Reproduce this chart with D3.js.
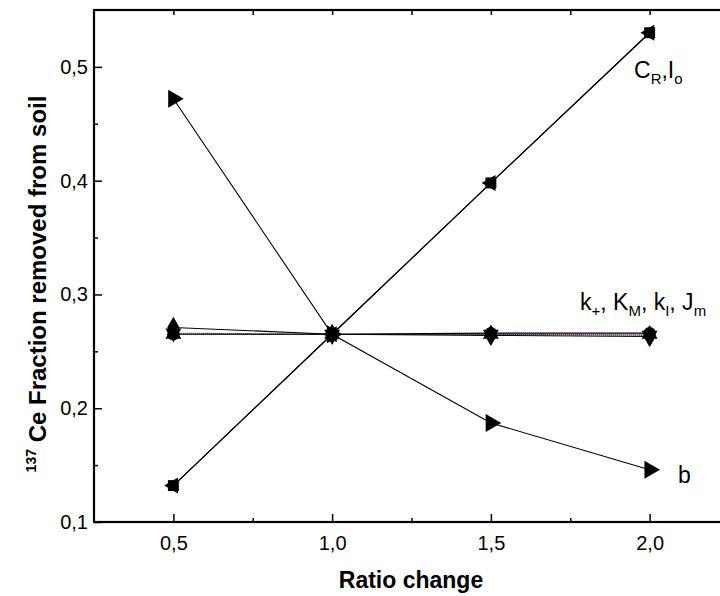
<!DOCTYPE html>
<html>
<head>
    <title>137Ce fraction vs ratio change</title>
</head>
<body style="margin:0">
<style type="text/css">
    #renderer { width: 720px; height: 596px; background: #fff; display: block; }
    .tick text { font-family: "Liberation Sans", Arial, sans-serif; font-size: 20px; fill: #000; }
    .domain { display: none; }
    .tick line { stroke: #000; stroke-width: 1.5; }
</style>
<script type="text/javascript" src="https://cdnjs.cloudflare.com/ajax/libs/d3/7.8.5/d3.min.js"></script>
<svg id="renderer"></svg>

<script type="text/javascript">
    // data
    var ratio = [0.5, 1.0, 1.5, 2.0];
    var cR = [0.132, 0.265, 0.398, 0.530];
    var iO = [0.132, 0.265, 0.398, 0.530];
    var bVal = [0.472, 0.265, 0.187, 0.146];
    var kPlus = [0.271, 0.265, 0.264, 0.263];
    var kM = [0.265, 0.265, 0.265, 0.265];
    var kI = [0.266, 0.265, 0.265, 0.264];
    var jM = [0.265, 0.265, 0.266, 0.266];
    var xTickValues = [0.5, 1.0, 1.5, 2.0];
    var xMinorTicks = [0.75, 1.25, 1.75];
    var yTickValues = [0.1, 0.2, 0.3, 0.4, 0.5];
    var yMinorTicks = [0.15, 0.25, 0.35, 0.45];

    var root = d3.select('#renderer');

    var padL = 94, padR = 729, padT = 10, padB = 522;

    var x = d3.scaleLinear().domain([0.25, 2.25]).range([padL, padR]);
    var y = d3.scaleLinear().domain([0.1, 0.55]).range([padB, padT]);

    var fmt = function (d) { return d3.format('.1f')(d).replace('.', ','); };

    // axes (ticks inward)
    root.append('g').attr('transform', 'translate(0,' + padB + ')')
        .call(d3.axisBottom(x).tickValues(xTickValues).tickSize(-8).tickPadding(14).tickFormat(fmt));
    root.append('g').attr('transform', 'translate(0,' + padB + ')')
        .call(d3.axisBottom(x).tickValues(xMinorTicks).tickSize(-4).tickFormat(''));
    root.append('g').attr('transform', 'translate(0,' + padT + ')')
        .call(d3.axisTop(x).tickValues(xTickValues.concat(xMinorTicks)).tickSize(-5).tickFormat(''));
    root.append('g').attr('transform', 'translate(' + padL + ',0)')
        .call(d3.axisLeft(y).tickValues(yTickValues).tickSize(-8).tickPadding(6).tickFormat(fmt));
    root.append('g').attr('transform', 'translate(' + padL + ',0)')
        .call(d3.axisLeft(y).tickValues(yMinorTicks).tickSize(-4).tickFormat(''));

    // frame
    root.append('rect')
        .attr('x', padL).attr('y', padT)
        .attr('width', padR - padL).attr('height', padB - padT)
        .attr('fill', 'none').attr('stroke', '#000').attr('stroke-width', 2.2);

    // series
    var series = [
        { vals: kM, sym: d3.symbolTriangle, rot: 0, size: 110, line: '#700', dash: '1,1' },
        { vals: kI, sym: d3.symbolTriangle, rot: 180, size: 110, line: '#006', dash: '1,1' },
        { vals: jM, sym: d3.symbolCircle, rot: 0, size: 120, line: '#000', dash: null },
        { vals: kPlus, sym: d3.symbolDiamond, rot: 0, size: 130, line: '#000', dash: null },
        { vals: iO, sym: d3.symbolTriangle, rot: -90, size: 110, line: '#000', dash: null },
        { vals: cR, sym: d3.symbolSquare, rot: 0, size: 120, line: '#000', dash: null },
        { vals: bVal, sym: d3.symbolTriangle, rot: 90, size: 140, line: '#000', dash: null }
    ];

    var line = d3.line().x(function (d) { return x(d[0]); }).y(function (d) { return y(d[1]); });

    series.forEach(function (s) {
        var pts = ratio.map(function (r, i) { return [r, s.vals[i]]; });
        root.append('path')
            .attr('d', line(pts))
            .attr('fill', 'none')
            .attr('stroke', s.line)
            .attr('stroke-width', 1.1)
            .attr('stroke-dasharray', s.dash);
    });
    series.forEach(function (s) {
        var pts = ratio.map(function (r, i) { return [r, s.vals[i]]; });
        root.selectAll(null).data(pts).enter().append('path')
            .attr('d', d3.symbol().type(s.sym).size(s.size))
            .attr('transform', function (d) {
                return 'translate(' + x(d[0]) + ',' + y(d[1]) + ') rotate(' + s.rot + ')';
            })
            .attr('fill', '#000');
    });

    // annotations
    var ann = root.append('g')
        .style('font-family', '"Liberation Sans", Arial, sans-serif')
        .style('font-size', '23px');

    var t1 = ann.append('text').attr('x', 634).attr('y', 78);
    t1.append('tspan').text('C');
    t1.append('tspan').attr('dy', 6).style('font-size', '15px').text('R');
    t1.append('tspan').attr('dy', -6).text(',I');
    t1.append('tspan').attr('dy', 6).style('font-size', '15px').text('o');

    var t2 = ann.append('text').attr('x', 580).attr('y', 310);
    t2.append('tspan').text('k');
    t2.append('tspan').attr('dy', 6).style('font-size', '15px').text('+');
    t2.append('tspan').attr('dy', -6).text(', K');
    t2.append('tspan').attr('dy', 6).style('font-size', '15px').text('M');
    t2.append('tspan').attr('dy', -6).text(', k');
    t2.append('tspan').attr('dy', 6).style('font-size', '15px').text('I');
    t2.append('tspan').attr('dy', -6).text(', J');
    t2.append('tspan').attr('dy', 6).style('font-size', '15px').text('m');

    ann.append('text').attr('x', 678).attr('y', 483).text('b');

    // axis titles
    root.append('text')
        .attr('x', 411).attr('y', 588)
        .attr('text-anchor', 'middle')
        .style('font-family', '"Liberation Sans", Arial, sans-serif')
        .style('font-weight', 'bold').style('font-size', '23px')
        .text('Ratio change');

    var yt = root.append('text')
        .attr('transform', 'translate(46,' + 284 + ') rotate(-90)')
        .attr('text-anchor', 'middle')
        .style('font-family', '"Liberation Sans", Arial, sans-serif')
        .style('font-weight', 'bold').style('font-size', '24px');
    yt.append('tspan').attr('dy', -10).style('font-size', '14px').text('137');
    yt.append('tspan').attr('dy', 10).text(' Ce Fraction removed from soil');
</script>
</body>
</html>
